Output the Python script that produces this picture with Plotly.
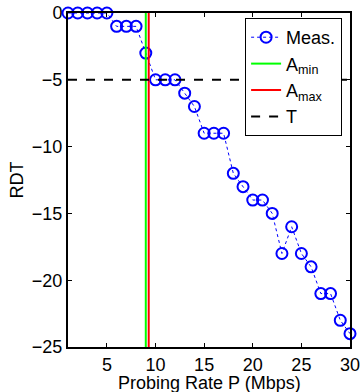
import plotly.graph_objects as go

rate = list(range(1, 31))
rdt = [0, 0, 0, 0, 0, -1, -1, -1, -3, -5, -5, -5, -6, -7, -9, -9, -9, -12, -13, -14,
       -14, -15, -18, -16, -18, -19, -21, -21, -23, -24]
a_min = 9.0
a_max = 9.3
threshold = -5
x_range = [1, 30]
y_range = [-25, 0]
x_ticks = [5, 10, 15, 20, 25, 30]
y_ticks = [0, -5, -10, -15, -20, -25]
y_tick_text = ["0", "\u22125", "\u221210", "\u221215", "\u221220", "\u221225"]
x_title = "Probing Rate P (Mbps)"
y_title = "RDT"

font = "Liberation Sans, Arial, sans-serif"

fig = go.Figure()
fig.add_trace(go.Scatter(
    x=rate, y=rdt, mode="lines+markers", name="Meas.", cliponaxis=False,
    line=dict(color="blue", width=1, dash="dot"),
    marker=dict(symbol="circle-open", size=11, color="blue", line=dict(width=2, color="blue")),
))
fig.add_trace(go.Scatter(
    x=[a_min, a_min], y=y_range, mode="lines", name="A<sub>min</sub>",
    line=dict(color="#00ff00", width=2),
))
fig.add_trace(go.Scatter(
    x=[a_max, a_max], y=y_range, mode="lines", name="A<sub>max</sub>",
    line=dict(color="#ff0000", width=2),
))
fig.add_trace(go.Scatter(
    x=x_range, y=[threshold, threshold], mode="lines", name="T",
    line=dict(color="black", width=2, dash="dash"),
))

fig.update_layout(
    width=362, height=392,
    margin=dict(l=68, r=12, t=13, b=45),
    paper_bgcolor="white", plot_bgcolor="white",
    font=dict(family=font, size=18, color="black"),
    showlegend=True,
    legend=dict(
        x=0.628, y=0.985, xanchor="left", yanchor="top",
        bgcolor="white", bordercolor="black", borderwidth=1,
        font=dict(size=18, family=font),
        tracegroupgap=0, itemwidth=30,
    ),
    xaxis=dict(
        range=x_range, tickvals=x_ticks, ticks="inside", ticklen=4, tickwidth=1,
        tickcolor="black", showline=True, linecolor="black", linewidth=2,
        mirror="ticks", showgrid=False, zeroline=False, automargin=False,
        tickfont=dict(size=18),
    ),
    yaxis=dict(
        range=y_range, tickvals=y_ticks, ticktext=y_tick_text, ticks="inside", ticklen=4,
        tickwidth=1, tickcolor="black", showline=True, linecolor="black", linewidth=2,
        mirror="ticks", showgrid=False, zeroline=False, automargin=False,
        title=dict(text=y_title, standoff=4, font=dict(size=18)),
        tickfont=dict(size=18),
    ),
    annotations=[dict(
        text=x_title, xref="paper", yref="paper", x=0.5, y=-0.108,
        xanchor="center", yanchor="middle", showarrow=False, font=dict(size=18),
    )],
)

fig.write_html("out.html")
